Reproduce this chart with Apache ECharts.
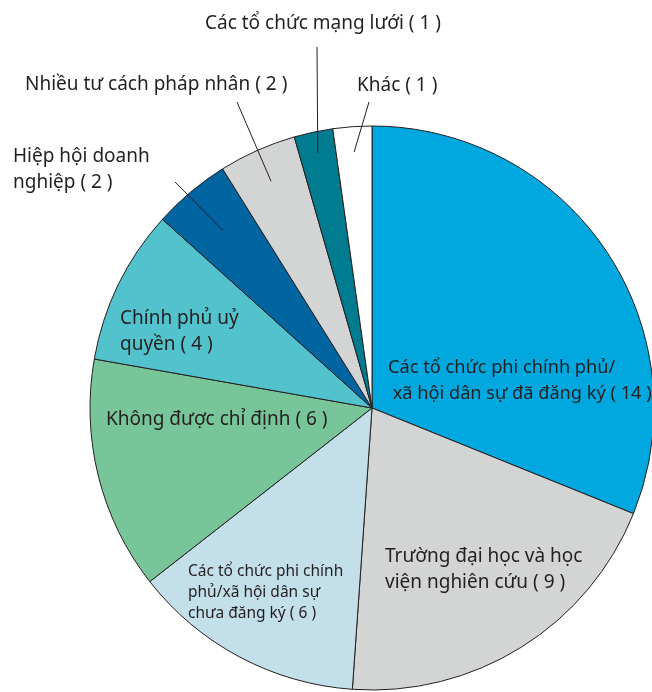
<!DOCTYPE html>
<html>
<head>
<meta charset="utf-8">
<script src="https://cdn.jsdelivr.net/npm/echarts@6/dist/echarts.min.js"></script>
<style>
  html, body { margin: 0; padding: 0; background: #fff; }
  #pieChart { width: 652px; height: 692px; }
</style>
</head>
<body>
<div id="pieChart"></div>
<script>
  // data, clockwise from 12 o'clock
  var names = [
    'Các tổ chức phi chính phủ/\n xã hội dân sự đã đăng ký',
    'Trường đại học và học\nviện nghiên cứu',
    'Các tổ chức phi chính\nphủ/xã hội dân sự\nchưa đăng ký',
    'Không được chỉ định',
    'Chính phủ uỷ\nquyền',
    'Hiệp hội doanh\nnghiệp',
    'Nhiều tư cách pháp nhân',
    'Các tổ chức mạng lưới',
    'Khác'
  ];
  var values = [14, 9, 6, 6, 4, 2, 2, 1, 1];
  var colors = ['#00a8df', '#d3d4d4', '#c3dfea', '#78c59a', '#52c3cc', '#0065a1', '#d3d4d4', '#007b8f', '#ffffff'];

  // label placement (left x, middle y) and leader lines
  var labelX = [388, 385, 188, 106, 120, 13, 25, 205, 357];
  var labelY = [381, 570, 593, 420, 332, 170, 85, 24, 86];
  var labelSize = [18.2, 19, 15.5, 19, 19, 19, 19, 19, 19];
  var lineEnd = [null, null, null, null, null, [175, 182], [237, 102], [317, 47], [369, 102]];
  var lineStart = [0, 0, 0, 0, 0, 0.82, 0.88, 0.925, 0.91]; // fraction of radius

  var cx = 372, cy = 408, R = 282;
  var total = values.reduce(function (a, b) { return a + b; }, 0);

  var chart = echarts.init(document.getElementById('pieChart'), null, { renderer: 'canvas' });

  var data = names.map(function (n, i) {
    return {
      name: n,
      value: values[i],
      itemStyle: { color: colors[i] },
      label: {
        show: true,
        position: 'inside',
        fontSize: labelSize[i],
        lineHeight: i === 2 ? 21 : 26
      }
    };
  });

  // leader lines: from inside the slice (middle angle) out to the label
  var leaders = [];
  var before = 0;
  values.forEach(function (v, i) {
    if (lineEnd[i]) {
      var a = (before + v / 2) / total * 2 * Math.PI;
      var r = R * lineStart[i];
      leaders.push({
        type: 'line',
        z: 100,
        silent: true,
        shape: {
          x1: cx + Math.sin(a) * r, y1: cy - Math.cos(a) * r,
          x2: lineEnd[i][0], y2: lineEnd[i][1]
        },
        style: { stroke: '#231f20', lineWidth: 1 }
      });
    }
    before += v;
  });

  var option = {
    animation: false,
    graphic: leaders,
    series: [{
      type: 'pie',
      center: [cx, cy],
      radius: R,
      startAngle: 90,
      clockwise: true,
      avoidLabelOverlap: false,
      data: data,
      itemStyle: {
        borderColor: '#231f20',
        borderWidth: 1
      },
      label: {
        color: '#231f20',
        fontFamily: 'Noto Sans',
        formatter: function (p) {
          return p.name + ' ( ' + p.value + ' )';
        }
      },
      labelLine: { show: false },
      labelLayout: function (p) {
        var i = p.dataIndex;
        return { x: labelX[i], y: labelY[i], align: 'left', verticalAlign: 'middle' };
      }
    }]
  };
  chart.setOption(option);
</script>
</body>
</html>
